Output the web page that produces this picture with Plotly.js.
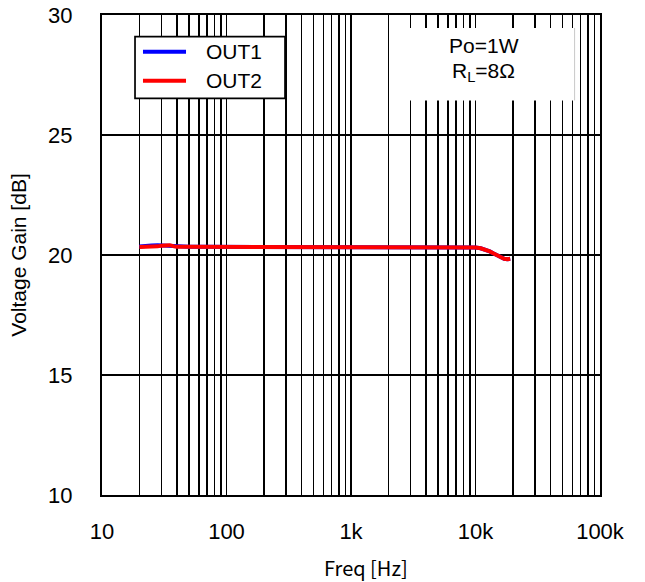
<!DOCTYPE html>
<html>
<head>
<meta charset="utf-8">
<script src="https://cdn.plot.ly/plotly-3.0.1.min.js"></script>
<style>html,body{margin:0;padding:0;background:#fff;}#chart{width:645px;height:582px;}</style>
</head>
<body>
<div id="chart"></div>
<script>
const freqOut1 = [20, 22, 25, 28, 30, 33, 35, 40, 50, 70, 100, 200, 500, 1000, 2000, 5000, 8000, 9000, 10000, 11000, 12000, 13000, 14000, 15000, 16000, 17000, 18000, 19000];
const gainOut1 = [20.35, 20.38, 20.40, 20.41, 20.40, 20.38, 20.36, 20.34, 20.34, 20.34, 20.34, 20.34, 20.34, 20.34, 20.34, 20.34, 20.34, 20.33, 20.31, 20.28, 20.22, 20.15, 20.06, 19.97, 19.89, 19.84, 19.82, 19.84];
const freqOut2 = [20, 22, 25, 28, 30, 33, 35, 38, 40, 50, 70, 100, 200, 500, 1000, 2000, 5000, 8000, 9000, 10000, 11000, 12000, 13000, 14000, 15000, 16000, 17000, 18000, 19000];
const gainOut2 = [20.33, 20.33, 20.34, 20.36, 20.39, 20.42, 20.41, 20.36, 20.34, 20.34, 20.34, 20.34, 20.34, 20.34, 20.34, 20.34, 20.34, 20.34, 20.33, 20.31, 20.28, 20.22, 20.15, 20.06, 19.97, 19.89, 19.84, 19.82, 19.84];
const seriesNames = ['OUT1', 'OUT2'];
const seriesColors = ['#0000ff', '#ff0000'];
const xTickVals = [10, 100, 1000, 10000, 100000];
const xTickText = ['10', '100', '1k', '10k', '100k'];
const yTickVals = [10, 15, 20, 25, 30];
const xTitle = 'Freq [Hz]';
const yTitle = 'Voltage Gain [dB]';

const traces = [
  {x: freqOut1, y: gainOut1, name: seriesNames[0], type: 'scatter', mode: 'lines', line: {color: seriesColors[0], width: 4}, showlegend: false},
  {x: freqOut2, y: gainOut2, name: seriesNames[1], type: 'scatter', mode: 'lines', line: {color: seriesColors[1], width: 4}, showlegend: false}
];

// legend box geometry (paper coords)
const lgX0 = 0.0663, lgX1 = 0.3675, lgY0 = 0.8265, lgY1 = 0.9548;
const lgLineX0 = 0.0823, lgLineX1 = 0.1687, lgTextX = 0.2040;
const lgRowY = [0.9235, 0.8631];

const shapes = [
  {type: 'rect', xref: 'paper', yref: 'paper', x0: lgX0, x1: lgX1, y0: lgY0, y1: lgY1, fillcolor: '#fff', line: {color: '#000', width: 1.7}, layer: 'above'},
  {type: 'rect', xref: 'paper', yref: 'paper', x0: 0.588, x1: 0.949, y0: 0.822, y1: 0.973, fillcolor: '#fff', line: {width: 0}, layer: 'above'},
  {type: 'line', xref: 'paper', yref: 'paper', x0: 0.949, x1: 0.949, y0: 0.822, y1: 0.973, line: {color: '#c8c8c8', width: 1}, layer: 'above'}
];
const annotations = [
  {xref: 'paper', yref: 'paper', x: 0.767, y: 0.9375, text: 'Po=1W', showarrow: false, font: {size: 21}, xanchor: 'center', yanchor: 'middle'},
  {xref: 'paper', yref: 'paper', x: 0.767, y: 0.881, text: 'R<sub>L</sub>=8Ω', showarrow: false, font: {size: 21}, xanchor: 'center', yanchor: 'middle'},
  {xref: 'paper', yref: 'paper', x: 0.530, y: -0.151, text: xTitle, showarrow: false, font: {family: 'Noto Sans CJK JP, sans-serif', size: 20}, xanchor: 'center', yanchor: 'middle'}
];
seriesNames.forEach((nm, i) => {
  shapes.push({type: 'line', xref: 'paper', yref: 'paper', x0: lgLineX0, x1: lgLineX1, y0: lgRowY[i], y1: lgRowY[i], line: {color: seriesColors[i], width: 4}, layer: 'above'});
  annotations.push({xref: 'paper', yref: 'paper', x: lgTextX, y: lgRowY[i], text: nm, showarrow: false, font: {size: 21}, xanchor: 'left', yanchor: 'middle'});
});

const layout = {
  width: 645, height: 582,
  margin: {l: 102, r: 45, t: 15, b: 87},
  paper_bgcolor: '#fff', plot_bgcolor: '#fff',
  font: {family: 'Liberation Sans, Arial, sans-serif', size: 20, color: '#000'},
  showlegend: false,
  xaxis: {
    type: 'log', range: [1, 5],
    tickvals: xTickVals, ticktext: xTickText,
    showgrid: true, gridcolor: '#000', gridwidth: 1.5,
    minor: {dtick: 'D1', showgrid: true, gridcolor: '#000', gridwidth: 1.5, ticks: ''},
    ticks: '', showline: true, linecolor: '#000', linewidth: 2, mirror: true,
    zeroline: false,
    tickfont: {size: 22, family: 'Liberation Sans, Arial, sans-serif'},
    ticklabelstandoff: 16
  },
  yaxis: {
    range: [10, 30], tickvals: yTickVals,
    showgrid: true, gridcolor: '#000', gridwidth: 1.5,
    ticks: '', showline: true, linecolor: '#000', linewidth: 2, mirror: true,
    zeroline: false,
    tickfont: {size: 22, family: 'Liberation Sans, Arial, sans-serif'},
    ticklabelstandoff: 23,
    title: {text: yTitle, font: {family: 'Liberation Sans, Arial, sans-serif', size: 21}, standoff: 16}
  },
  shapes: shapes,
  annotations: annotations
};

Plotly.newPlot('chart', traces, layout, {displayModeBar: false, staticPlot: true});
</script>
</body>
</html>
